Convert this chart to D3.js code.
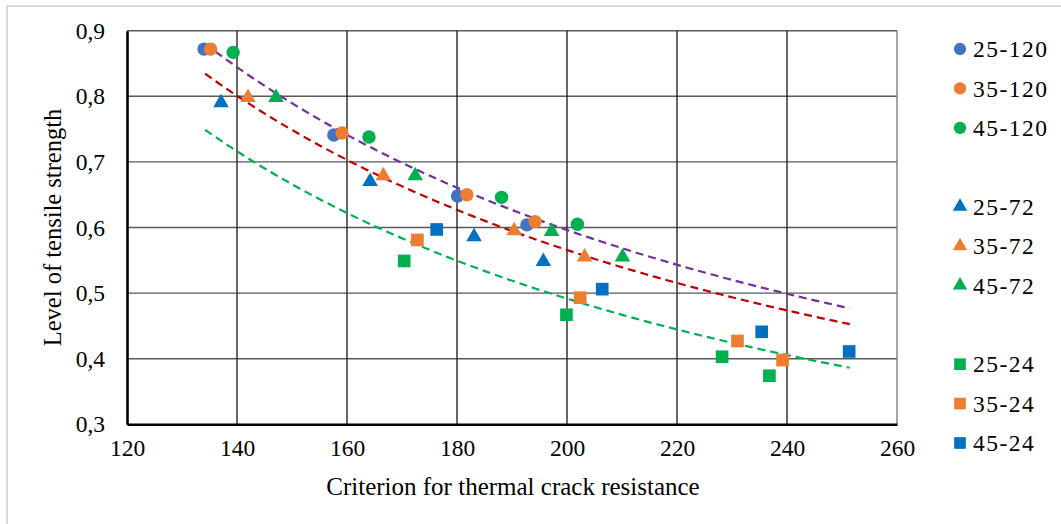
<!DOCTYPE html>
<html>
<head>
<meta charset="utf-8">
<script src="https://cdn.jsdelivr.net/npm/d3@7"></script>
<style>
  body { margin: 0; background: #fff; }
  svg { display: block; }
  text { font-family: "Liberation Serif", "Times New Roman", serif; fill: #000; }
</style>
</head>
<body>
<div id="main"></div>
<script>

// series names, in legend order
const seriesNames = ['25-120', '35-120', '45-120', '25-72', '35-72', '45-72', '25-24', '35-24', '45-24'];
const seriesShapes = ['circle', 'circle', 'circle', 'triangle', 'triangle', 'triangle', 'square', 'square', 'square'];
const seriesColors = ['#4472C4', '#ED7D31', '#00B050', '#0070C0', '#ED7D31', '#00B050', '#00B050', '#ED7D31', '#0070C0'];

// x = criterion for thermal crack resistance, y = level of tensile strength
const s25_120 = [[134.0, 0.872], [157.6, 0.741], [180.1, 0.648], [192.7, 0.604]];
const s35_120 = [[135.2, 0.872], [159.1, 0.744], [181.8, 0.650], [194.2, 0.609]];
const s45_120 = [[139.3, 0.867], [164.0, 0.738], [188.1, 0.646], [201.9, 0.605]];
const s25_72 = [[137.1, 0.790], [164.2, 0.670], [183.1, 0.586], [195.7, 0.548]];
const s35_72 = [[142.0, 0.798], [166.6, 0.679], [190.4, 0.595], [203.2, 0.555]];
const s45_72 = [[147.1, 0.798], [172.4, 0.679], [197.2, 0.594], [210.1, 0.555]];
const s25_24 = [[170.4, 0.549], [199.9, 0.467], [228.2, 0.403], [236.8, 0.374]];
const s35_24 = [[172.8, 0.581], [202.4, 0.493], [231.0, 0.427], [239.2, 0.398]];
const s45_24 = [[176.3, 0.597], [206.4, 0.506], [235.4, 0.441], [251.3, 0.411]];
const seriesData = [s25_120, s35_120, s45_120, s25_72, s35_72, s45_72, s25_24, s35_24, s45_24];

// power trendlines, one per group of three series
const trendGroups = [[0, 1, 2], [3, 4, 5], [6, 7, 8]];
const trendColors = ['#7030A0', '#C00000', '#00B050'];
const trendRange = [134.2, 251.4];

const xTicks = [120, 140, 160, 180, 200, 220, 240, 260];
const yTicks = [0.3, 0.4, 0.5, 0.6, 0.7, 0.8, 0.9];

const w = 1061;
const h = 524;
const plot = { left: 127, right: 897, top: 30.7, bottom: 424.3 };

const svg = d3.select('#main').append('svg').attr('width', w).attr('height', h);

// light frame round the chart
svg.append('rect').attr('x', 7).attr('y', 6).attr('width', 1100).attr('height', 600)
    .attr('fill', 'none').attr('stroke', '#d9d9d9').attr('stroke-width', 2);

const xScale = d3.scaleLinear().domain([120, 260]).range([plot.left, plot.right]);
const yScale = d3.scaleLinear().domain([0.3, 0.9]).range([plot.bottom, plot.top]);

// grid
const grid = svg.append('g');
grid.selectAll('line.h').data(yTicks.slice(1)).enter().append('line')
    .attr('x1', plot.left).attr('x2', plot.right)
    .attr('y1', d => yScale(d)).attr('y2', d => yScale(d))
    .attr('stroke', '#595959').attr('stroke-width', 1.4);
grid.selectAll('line.v').data(xTicks.slice(1)).enter().append('line')
    .attr('y1', plot.top).attr('y2', plot.bottom)
    .attr('x1', d => xScale(d)).attr('x2', d => xScale(d))
    .attr('stroke', d => d === 260 ? '#7f7f7f' : '#262626').attr('stroke-width', 1.4);

// axes
const xAxis = d3.axisBottom(xScale).tickValues(xTicks).tickSize(0).tickPadding(15).tickFormat(d3.format('d'));
const yAxis = d3.axisLeft(yScale).tickValues(yTicks).tickSize(0).tickPadding(22)
    .tickFormat(d => d3.format('.1f')(d).replace('.', ','));

const gx = svg.append('g').attr('transform', `translate(0,${plot.bottom})`).call(xAxis);
const gy = svg.append('g').attr('transform', `translate(${plot.left},0)`).call(yAxis);
[gx, gy].forEach(g => {
    g.select('.domain').attr('stroke', '#000').attr('stroke-width', 2.6);
    g.selectAll('text').style('font-family', '"Liberation Serif", serif').style('font-size', '23.5px').attr('fill', '#000');
});

// power regression as Excel does it: ln y = ln a + b ln x
function powerFit(points) {
    const lx = points.map(p => Math.log(p[0]));
    const ly = points.map(p => Math.log(p[1]));
    const mx = d3.mean(lx), my = d3.mean(ly);
    const b = d3.sum(lx, (v, i) => (v - mx) * (ly[i] - my)) / d3.sum(lx, v => (v - mx) * (v - mx));
    const a = Math.exp(my - b * mx);
    return x => a * Math.pow(x, b);
}

const line = d3.line().x(d => xScale(d[0])).y(d => yScale(d[1]));
trendGroups.forEach((grp, i) => {
    const pts = grp.flatMap(k => seriesData[k]);
    const f = powerFit(pts);
    const xs = d3.range(trendRange[0], trendRange[1], 1).concat([trendRange[1]]);
    svg.append('path').datum(xs.map(x => [x, f(x)]))
        .attr('d', line).attr('fill', 'none')
        .attr('stroke', trendColors[i]).attr('stroke-width', 2.2)
        .attr('stroke-dasharray', '8,5');
});

// markers
const symbolType = { circle: d3.symbolCircle, triangle: d3.symbolTriangle, square: d3.symbolSquare };
const symbolSize = { circle: 140, triangle: 105, square: 160 };

seriesData.forEach((data, i) => {
    const shape = seriesShapes[i];
    svg.append('g').selectAll('path').data(data).enter().append('path')
        .attr('d', d3.symbol().type(symbolType[shape]).size(symbolSize[shape]))
        .attr('transform', d => `translate(${xScale(d[0])},${yScale(d[1])})`)
        .attr('fill', seriesColors[i]);
});

// legend, with empty rows between groups
const legendRows = [0, 1, 2, 4, 5, 6, 8, 9, 10];
const legend = svg.append('g');
seriesNames.forEach((name, i) => {
    const shape = seriesShapes[i];
    const y = 49 + legendRows[i] * 39.4;
    const item = legend.append('g').attr('transform', `translate(960,${y})`);
    item.append('path')
        .attr('d', d3.symbol().type(symbolType[shape]).size(symbolSize[shape] * 0.85))
        .attr('fill', seriesColors[i]);
    item.append('text').attr('x', 13).attr('dy', '0.35em')
        .style('font-size', '23.5px').style('letter-spacing', '1.5px').text(name);
});

// axis titles
svg.append('text').attr('x', (plot.left + plot.right) / 2 + 1).attr('y', 495)
    .attr('text-anchor', 'middle').style('font-size', '25px')
    .text('Criterion for thermal crack resistance');

svg.append('text').attr('transform', `translate(61,${(plot.top + plot.bottom) / 2}) rotate(-90)`)
    .attr('text-anchor', 'middle').style('font-size', '24.5px')
    .text('Level of tensile strength');

</script>
</body>
</html>
